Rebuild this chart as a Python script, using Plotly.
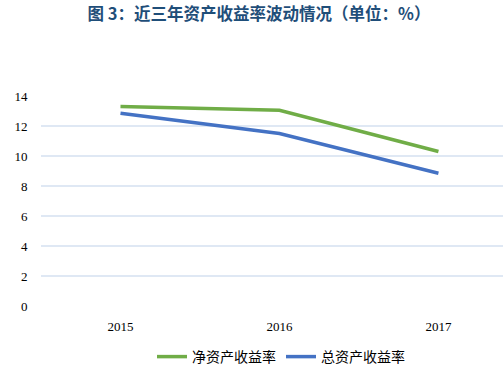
import plotly.graph_objects as go

years = ["2015", "2016", "2017"]
roe = [13.3, 13.05, 10.3]
roa = [12.85, 11.5, 8.85]
series_names = ["净资产收益率", "总资产收益率"]
y_ticks = [0, 2, 4, 6, 8, 10, 12, 14]

tick_font = "'Liberation Serif', serif"
cjk_font = "'Noto Sans CJK SC', sans-serif"

W, H = 503, 376

fig = go.Figure()
fig.add_trace(go.Scatter(x=[0, 1, 2], y=roe, mode="lines", name=series_names[0],
                         line=dict(color="#70AD47", width=3.5)))
fig.add_trace(go.Scatter(x=[0, 1, 2], y=roa, mode="lines", name=series_names[1],
                         line=dict(color="#4472C4", width=3.5)))

fig.update_layout(
    width=W, height=H,
    margin=dict(l=41, r=0, t=96, b=70, autoexpand=False),
    paper_bgcolor="white", plot_bgcolor="white",
    title=dict(text="<b>图 3：近三年资产收益率波动情况（单位：%）</b>",
               x=259 / W, xref="container", xanchor="center",
               y=1 - 14 / H, yref="container", yanchor="middle",
               font=dict(family=cjk_font, size=16.5, color="#1F4E79")),
    xaxis=dict(range=[-0.5, 2.406], tickvals=[0, 1, 2], ticktext=years,
               showgrid=False, zeroline=False, showline=False, ticks="outside",
               ticklen=8, tickcolor="rgba(0,0,0,0)",
               tickfont=dict(family=tick_font, size=13, color="#000000")),
    yaxis=dict(range=[0, 14], tickvals=y_ticks, showgrid=True, gridcolor="#DFE8F4",
               gridwidth=2, zeroline=False, showline=False, ticks="outside",
               ticklen=10, tickcolor="rgba(0,0,0,0)",
               tickfont=dict(family=tick_font, size=13, color="#000000")),
    legend=dict(orientation="h", x=281 / W, xref="container", xanchor="center",
                y=1 - 357 / H, yref="container", yanchor="middle",
                font=dict(family=cjk_font, size=14, color="#000000"),
                itemwidth=30, traceorder="normal"),
    showlegend=True,
    hovermode=False,
)

fig.write_html("out.html", config={"displayModeBar": False},
               post_script="document.body.style.margin='0';")
